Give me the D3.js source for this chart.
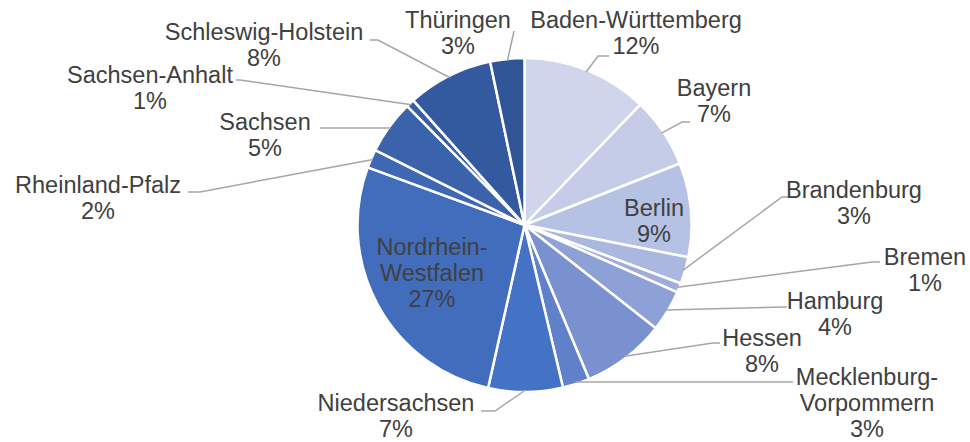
<!DOCTYPE html>
<html lang="de">
<head>
<meta charset="UTF-8">
<title>Anteile nach Bundesland</title>
<script src="https://d3js.org/d3.v7.min.js"></script>
<style>
  body { margin: 0; background: #fff; }
  .lbl { font-family: "Liberation Sans", Arial, sans-serif; font-size: 23.5px; fill: #404040; }
  .leader { fill: none; stroke: #a6a6a6; stroke-width: 1.5px; }
</style>
</head>
<body>
<svg id="chart" width="970" height="442"></svg>
<script>
// values (percent share)
const states = ["Baden-Württemberg", "Bayern", "Berlin", "Brandenburg", "Bremen", "Hamburg", "Hessen",
  "Mecklenburg-Vorpommern", "Niedersachsen", "Nordrhein-Westfalen", "Rheinland-Pfalz", "Sachsen",
  "Sachsen-Anhalt", "Schleswig-Holstein", "Thüringen"];
const shares = [12.2, 6.8, 9.1, 2.6, 0.9, 4.0, 8.1, 2.6, 7.2, 27.1, 1.8, 5.2, 0.8, 8.3, 3.3];

const colors = ["#cfd5ea", "#c4cce8", "#b6c2e4", "#aab7df", "#9eaddb", "#8ea1d6", "#7a91d0",
  "#5f81ca", "#4472c4", "#416dbc", "#3e68b3", "#3a63ab", "#375ea4", "#335a9e", "#2f5597"];

const svg = d3.select("#chart");
const cx = 524.5, cy = 225, r = 167;
const g = svg.append("g").attr("transform", `translate(${cx},${cy})`);

const data = states.map((s, i) => ({ name: s, v: shares[i], color: colors[i] }));
const pie = d3.pie().sort(null).value(d => d.v);
const arcs = pie(data);
const arc = d3.arc().innerRadius(0).outerRadius(r);
const edge = d3.arc().innerRadius(r - 2).outerRadius(r - 2);

g.selectAll("path.slice").data(arcs)
  .join("path")
  .attr("class", "slice")
  .attr("d", arc)
  .attr("fill", d => d.data.color)
  .attr("stroke", "#fff")
  .attr("stroke-width", 2.5)
  .attr("stroke-linejoin", "round");

// label placement (page coords): text centre x, first line y, leader points
const layout = {
  "Baden-Württemberg": { x: 636, y: 20, lead: [[598, 56], [609, 56]] },
  "Bayern": { x: 714, y: 88, lead: [[682, 122], [690, 122]] },
  "Berlin": { x: 654, y: 208 },
  "Brandenburg": { x: 854, y: 190, lead: [[782, 197], [795, 197]] },
  "Bremen": { x: 925, y: 257, lead: [[872, 262], [880, 262]] },
  "Hamburg": { x: 835, y: 301, lead: [[787, 307]] },
  "Hessen": { x: 762, y: 338, lead: [[713, 343], [720, 343]] },
  "Mecklenburg-Vorpommern": { x: 867, y: 377, wrap: true, lead: [[793, 382]] },
  "Niedersachsen": { x: 396, y: 403, lead: [[495, 411], [481, 411]] },
  "Nordrhein-Westfalen": { x: 432, y: 247, wrap: true },
  "Rheinland-Pfalz": { x: 98, y: 185, lead: [[200, 192], [188, 192]] },
  "Sachsen": { x: 265, y: 122, lead: [[340, 128], [320, 128]] },
  "Sachsen-Anhalt": { x: 150, y: 75, lead: [[240, 80], [236, 80]] },
  "Schleswig-Holstein": { x: 264, y: 32, lead: [[378, 40], [370, 40]] },
  "Thüringen": { x: 458, y: 20, lead: [[514, 31]] }
};

const lineH = 26;

arcs.forEach(d => {
  const L = layout[d.data.name];
  if (L.lead) {
    const p0 = edge.centroid(d);
    const pts = [[p0[0] + cx, p0[1] + cy]].concat(L.lead);
    svg.append("path").attr("class", "leader").attr("d", d3.line()(pts));
  }
  const lines = L.wrap ? d.data.name.replace("-", "-|").split("|") : [d.data.name];
  lines.push(Math.round(d.data.v) + "%");
  const t = svg.append("text").attr("class", "lbl").attr("text-anchor", "middle");
  lines.forEach((s, i) => {
    t.append("tspan").attr("x", L.x).attr("y", L.y + i * lineH)
      .attr("dominant-baseline", "central").text(s);
  });
});
</script>
</body>
</html>
